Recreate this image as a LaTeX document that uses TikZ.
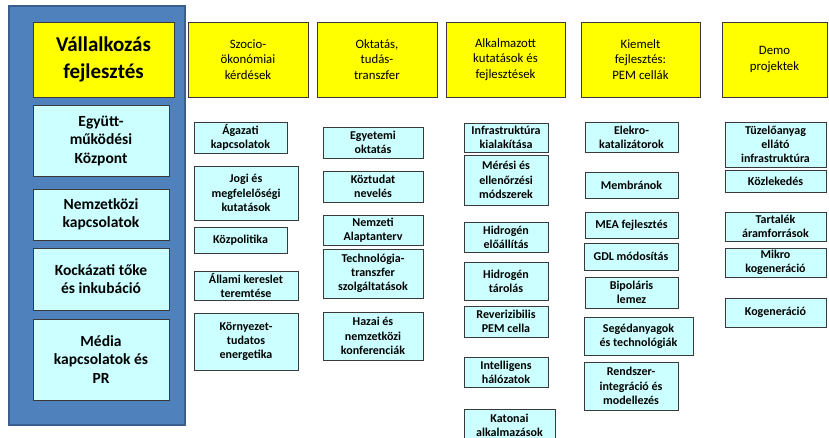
\documentclass[tikz,border=0pt]{standalone}
\usepackage{fontspec}
\setmainfont{Carlito}
\definecolor{panelblue}{HTML}{4F81BD}
\definecolor{paneledge}{HTML}{3A5F8E}
\definecolor{ybox}{HTML}{FFFF00}
\definecolor{cbox}{HTML}{CCFFFF}
\definecolor{edge}{HTML}{3A3A3A}
\newcommand\bx[7]{\node[#6,minimum width={(#4)-(#2)},minimum height={(#5)-(#3)}] (#1) at ({(#2+#4)/2},{(#3+#5)/2}) {#7};}
\tikzset{
  base/.style={draw=edge,line width=0.9pt,inner sep=0pt,outer sep=0pt,align=center,rectangle},
  title/.style={base,fill=ybox,font=\fontsize{21}{27}\selectfont\bfseries},
  head/.style={base,fill=ybox,font=\fontsize{12.8}{15.5}\selectfont},
  bigc/.style={base,fill=cbox,font=\fontsize{15.5}{18.5}\selectfont\bfseries},
  smallc/.style={base,fill=cbox,font=\fontsize{12}{14.2}\selectfont\bfseries},
}
\begin{document}
\begin{tikzpicture}[x=1pt,y=-1pt]
\useasboundingbox (0,0) rectangle (829,437);
\fill[white] (0,0) rectangle (829,437);
% left panel
\node[draw=paneledge,line width=2pt,fill=panelblue,minimum width=176,minimum height=419,inner sep=0pt] (panel) at (97,215.5) {};
\bx{vf}{33}{22}{174}{97}{title}{Vállalkozás\\fejlesztés}
\bx{egy}{33}{105}{169}{176}{bigc}{Együtt-\\működési\\Központ}
\bx{nem}{33}{189}{169}{240}{bigc}{Nemzetközi\\kapcsolatok}
\bx{koc}{33}{248}{169}{310}{bigc}{Kockázati tőke\\és inkubáció}
\bx{med}{33}{319}{169}{400}{bigc}{Média\\kapcsolatok és\\PR}
% headers
\bx{h1}{188}{22}{308}{97}{head}{Szocio-\\ökonómiai\\kérdések}
\bx{h2}{317}{22}{437}{97}{head}{Oktatás,\\tudás-\\transzfer}
\bx{h3}{446}{22}{565}{97}{head}{Alkalmazott\\kutatások és\\fejlesztések}
\bx{h4}{581}{22}{700}{97}{head}{Kiemelt\\fejlesztés:\\PEM cellák}
\bx{h5}{722}{22}{827}{97}{head}{Demo\\projektek}
% column 1
\bx{a1}{194}{122}{287}{153}{smallc}{Ágazati\\kapcsolatok}
\bx{a2}{194}{166}{298}{220}{smallc}{Jogi és\\megfelelőségi\\kutatások}
\bx{a3}{194}{227}{287}{253}{smallc}{Közpolitika}
\bx{a4}{194}{271}{298}{300}{smallc}{Állami kereslet\\teremtése}
\bx{a5}{194}{313}{298}{370}{smallc}{Környezet-\\tudatos\\energetika}
% column 2
\bx{b1}{323}{127}{423}{158}{smallc}{Egyetemi\\oktatás}
\bx{b2}{323}{171}{423}{202}{smallc}{Köztudat\\nevelés}
\bx{b3}{323}{215}{423}{245}{smallc}{Nemzeti\\Alaptanterv}
\bx{b4}{323}{249}{423}{298}{smallc}{Technológia-\\transzfer\\szolgáltatások}
\bx{b5}{323}{312}{423}{360}{smallc}{Hazai és\\nemzetközi\\konferenciák}
% column 3
\bx{c1}{464}{123}{548}{152}{smallc}{Infrastruktúra\\kialakítása}
\bx{c2}{464}{155}{548}{205}{smallc}{Mérési és\\ellenőrzési\\módszerek}
\bx{c3}{464}{222}{548}{252}{smallc}{Hidrogén\\előállítás}
\bx{c4}{464}{262}{548}{300}{smallc}{Hidrogén\\tárolás}
\bx{c5}{464}{306}{548}{337}{smallc}{Reverizibilis\\PEM cella}
\bx{c6}{464}{357}{548}{387}{smallc}{Intelligens\\hálózatok}
\bx{c7}{464}{409}{555}{441}{smallc}{Katonai\\alkalmazások}
% column 4
\bx{d1}{585}{122}{678}{152}{smallc}{Elekro-\\katalizátorok}
\bx{d2}{585}{172}{678}{198}{smallc}{Membránok}
\bx{d3}{585}{212}{678}{238}{smallc}{MEA fejlesztés}
\bx{d4}{584}{243}{678}{270}{smallc}{GDL módosítás}
\bx{d5}{585}{277}{678}{308}{smallc}{Bipoláris\\lemez}
\bx{d6}{584}{317}{693}{355}{smallc}{Segédanyagok\\és technológiák}
\bx{d7}{584}{362}{678}{410}{smallc}{Rendszer-\\integráció és\\modellezés}
% column 5
\bx{e1}{725}{122}{826}{167}{smallc}{Tüzelőanyag\\ellátó\\infrastruktúra}
\bx{e2}{725}{170}{826}{192}{smallc}{Közlekedés}
\bx{e3}{725}{212}{826}{241}{smallc}{Tartalék\\áramforrások}
\bx{e4}{725}{248}{826}{277}{smallc}{Mikro\\kogeneráció}
\bx{e5}{725}{298}{826}{327}{smallc}{Kogeneráció}
\end{tikzpicture}
\end{document}
